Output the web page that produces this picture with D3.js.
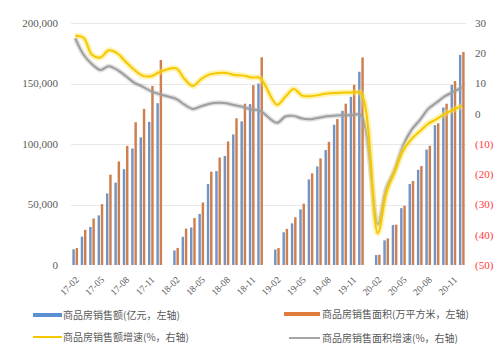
<!DOCTYPE html>
<html>
<head>
<meta charset="utf-8">
<script src="https://cdn.jsdelivr.net/npm/d3@7"></script>
<style>
  body { margin: 0; background: #fff; }
  svg { display: block; }
</style>
</head>
<body>
<div id="chart"></div>
<script>
// months with data (Jan is merged into Feb, so no Jan points)
const months = [
  "17-02","17-03","17-04","17-05","17-06","17-07","17-08","17-09","17-10","17-11","17-12",
  "18-02","18-03","18-04","18-05","18-06","18-07","18-08","18-09","18-10","18-11","18-12",
  "19-02","19-03","19-04","19-05","19-06","19-07","19-08","19-09","19-10","19-11","19-12",
  "20-02","20-03","20-04","20-05","20-06","20-07","20-08","20-09","20-10","20-11","20-12"
];
// 商品房销售额 (亿元, cumulative)
const salesAmount = [
  12955, 23501, 31460, 41046, 59122, 68100, 79200, 96300, 105500, 118300, 133701,
  12011, 23291, 31000, 42200, 66900, 77600, 90100, 107900, 118700, 133000, 149973,
  12803, 27039, 34400, 46000, 70700, 81500, 95000, 115900, 127400, 139000, 159725,
  8203, 20365, 33000, 47000, 66900, 78700, 95400, 115600, 130200, 148900, 173613
];
// 商品房销售面积 (万平方米, cumulative)
const salesArea = [
  14019, 29035, 38439, 50297, 74662, 85550, 98495, 118000, 129000, 148000, 169408,
  14123, 30063, 38800, 51700, 77100, 88800, 102100, 121300, 133300, 148600, 171654,
  14102, 29829, 39400, 50700, 75800, 88100, 101800, 120600, 133300, 148900, 171558,
  8475, 21978, 33300, 49000, 69400, 81800, 98500, 117100, 133300, 152000, 176086
];
// 商品房销售额增速 (%)
const amountGrowth = [
  25.8, 25.1, 19.5, 18.6, 21.0, 20.0, 17.2, 14.6, 12.6, 12.4, 13.7,
  15.0, 11.5, 9.2, 11.5, 13.0, 13.5, 13.5, 12.8, 12.6, 12.0, 11.8,
  3.0, 5.6, 8.2, 6.0, 5.8, 6.2, 6.7, 6.9, 7.0, 7.0, 6.8,
  -39.5, -26.3, -19.3, -12.3, -8.4, -5.8, -3.3, -1.8, 0.0, 1.3, 2.6
];
// 商品房销售面积增速 (%)
const areaGrowth = [
  25.0, 19.5, 16.4, 14.5, 15.7, 14.5, 12.5, 10.3, 9.0, 7.5, 6.5,
  4.9, 3.0, 1.6, 2.5, 3.3, 3.6, 3.5, 2.8, 2.2, 1.4, 1.0,
  -3.0, -0.9, -0.7, -1.6, -1.8, -1.3, -0.8, -0.6, -0.5, -0.4, -0.5,
  -36.5, -24.7, -18.6, -10.6, -5.4, -2.1, 1.6, 3.7, 5.8, 7.2, 8.7
];
const leftTicks = [0, 50000, 100000, 150000, 200000];
const rightTicks = [-50, -40, -30, -20, -10, 0, 10, 20, 30];
const tickMonths = ["17-02","17-05","17-08","17-11","18-02","18-05","18-08","18-11",
                    "19-02","19-05","19-08","19-11","20-02","20-05","20-08","20-11"];

const width = 499, height = 345;

const svg = d3.select("#chart").append("svg")
  .attr("width", width).attr("height", height);

// all month slots on a date axis, January slots stay empty
const fmt = d3.timeFormat("%y-%m");
const slots = d3.timeMonth.range(new Date(2017, 1, 1), new Date(2021, 0, 1)).map(fmt);

const x = d3.scaleBand().domain(slots).range([71, 466]);
const yL = d3.scaleLinear().domain([0, 200000]).range([265, 23]);
const yR = d3.scaleLinear().domain([-50, 30]).range([265, 23]);

const data = months.map((m, i) => ({
  m, amount: salesAmount[i], area: salesArea[i], ag: amountGrowth[i], arg: areaGrowth[i]
}));

// gridlines
svg.append("g").selectAll("line")
  .data(leftTicks.filter(d => d > 0))
  .join("line")
  .attr("x1", 71).attr("x2", 466)
  .attr("y1", d => Math.round(yL(d)) + 0.5).attr("y2", d => Math.round(yL(d)) + 0.5)
  .attr("stroke", "#e8e8e8").attr("stroke-width", 1);

// left axis labels
svg.append("g").selectAll("text")
  .data(leftTicks)
  .join("text")
  .attr("x", 58).attr("y", d => yL(d))
  .attr("dy", "0.35em")
  .attr("text-anchor", "end")
  .style("font-family", "'Liberation Serif', serif")
  .style("font-size", "11px")
  .attr("fill", "#595959")
  .text(d3.format(","));

// right axis labels
svg.append("g").selectAll("text")
  .data(rightTicks)
  .join("text")
  .attr("x", 475).attr("y", d => yR(d))
  .attr("dy", "0.35em")
  .style("font-family", "'Liberation Serif', serif")
  .style("font-size", "11px")
  .attr("fill", d => d < 0 ? "#ff3b3b" : "#595959")
  .text(d => d < 0 ? `(${-d})` : d);

// bars
const bw = x.bandwidth() * 0.29;
svg.append("g").selectAll("rect")
  .data(data)
  .join("rect")
  .attr("x", d => x(d.m) + x.bandwidth() / 2 - bw - 0.4)
  .attr("y", d => yL(d.amount))
  .attr("width", bw)
  .attr("height", d => yL(0) - yL(d.amount))
  .attr("fill", "#7394c2");

svg.append("g").selectAll("rect")
  .data(data)
  .join("rect")
  .attr("x", d => x(d.m) + x.bandwidth() / 2 + 0.4)
  .attr("y", d => yL(d.area))
  .attr("width", bw)
  .attr("height", d => yL(0) - yL(d.area))
  .attr("fill", "#cf7e4d");

// growth lines (smoothed)
const cx = d => x(d.m) + x.bandwidth() / 2;
const lineAmt = d3.line().x(cx).y(d => yR(d.ag)).curve(d3.curveCatmullRom);
const lineArea = d3.line().x(cx).y(d => yR(d.arg)).curve(d3.curveCatmullRom);

svg.append("path").datum(data).attr("d", lineArea)
  .attr("fill", "none").attr("stroke", "#a5a5a5").attr("stroke-opacity", 0.35).attr("stroke-width", 5);
svg.append("path").datum(data).attr("d", lineArea)
  .attr("fill", "none").attr("stroke", "#9e9e9e").attr("stroke-width", 2);
svg.append("path").datum(data).attr("d", lineAmt)
  .attr("fill", "none").attr("stroke", "#ffe34d").attr("stroke-opacity", 0.45).attr("stroke-width", 6);
svg.append("path").datum(data).attr("d", lineAmt)
  .attr("fill", "none").attr("stroke", "#f5c800").attr("stroke-width", 2);

// x tick labels
svg.append("g").selectAll("text")
  .data(tickMonths)
  .join("text")
  .attr("transform", d => `translate(${x(d) + x.bandwidth() / 2 + 2},278) rotate(-45)`)
  .attr("text-anchor", "end")
  .attr("dy", "0.35em")
  .style("font-family", "'Liberation Serif', serif")
  .style("font-size", "9.5px")
  .attr("fill", "#595959")
  .text(d => d);

// legend
const legendItems = [
  {label: "商品房销售额(亿元，左轴)", color: "#5b8fd0", w: 4, x: 33, y: 315},
  {label: "商品房销售面积(万平方米，左轴)", color: "#e07b3c", w: 4, x: 284, y: 314},
  {label: "商品房销售额增速(%，右轴)", color: "#f5c800", w: 2, x: 33, y: 337},
  {label: "商品房销售面积增速(%，右轴)", color: "#a5a5a5", w: 2, x: 289, y: 338}
];
const lg = svg.append("g").selectAll("g").data(legendItems).join("g")
  .attr("transform", d => `translate(${d.x},${d.y})`);
lg.append("line")
  .attr("x1", 0).attr("x2", d => d.x < 100 ? 29 : 320 - d.x)
  .attr("stroke", d => d.color).attr("stroke-width", d => d.w);
lg.append("text")
  .attr("x", d => d.x < 100 ? 30 : 322 - d.x)
  .attr("dy", "0.35em")
  .style("font-family", "'Noto Sans CJK SC', sans-serif")
  .style("font-size", "10px")
  .attr("fill", "#595959")
  .text(d => d.label);
</script>
</body>
</html>
